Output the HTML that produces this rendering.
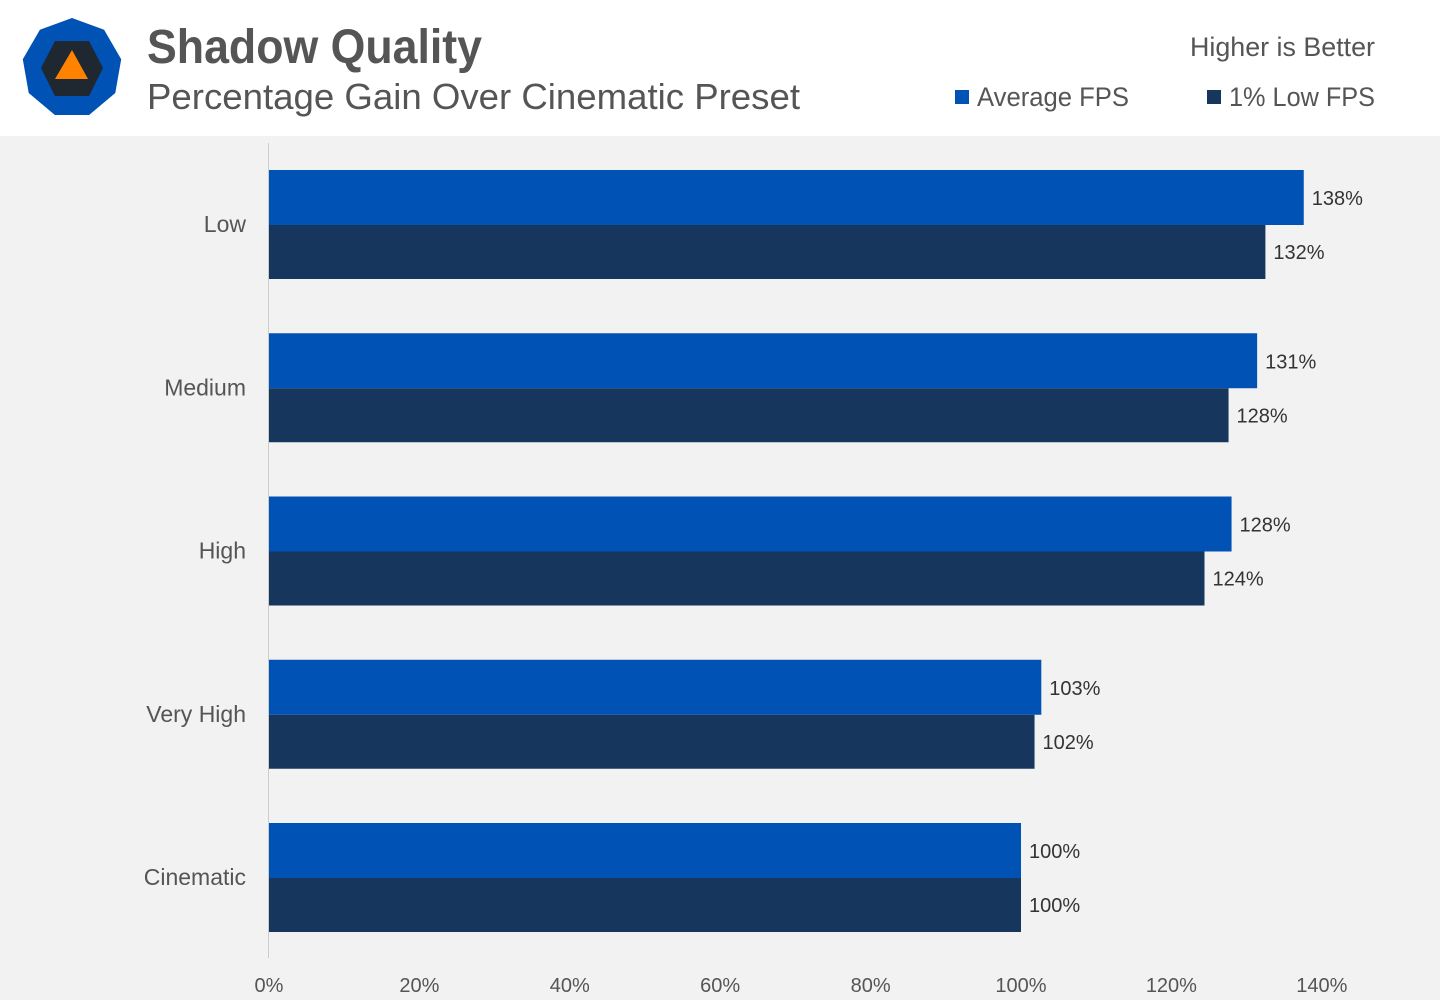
<!DOCTYPE html>
<html><head><meta charset="utf-8"><style>
body{margin:0;width:1440px;height:1000px;background:#f2f2f2;font-family:"Liberation Sans",sans-serif;overflow:hidden;position:relative}
#hdr{position:absolute;left:0;top:0;width:1440px;height:136px;background:#fff}
</style></head><body>
<div id="hdr"></div>
<svg style="position:absolute;left:0;top:0" width="1440" height="1000">
<g>
<polygon id="nona" fill="#0052b4"/>
<polygon points="55,41 89,41 103,68 89,96 55,96 41,68" fill="#1f2730"/>
<polygon points="72,50 55,79 88,79" fill="#ff8200"/>
</g>
<text x="147" y="63" font-size="48" font-weight="bold" fill="#555" textLength="335" lengthAdjust="spacingAndGlyphs">Shadow Quality</text>
<text x="147" y="109" font-size="36" fill="#555" textLength="653" lengthAdjust="spacingAndGlyphs">Percentage Gain Over Cinematic Preset</text>
<text x="1375" y="56" font-size="27" fill="#555" text-anchor="end" textLength="185" lengthAdjust="spacingAndGlyphs">Higher is Better</text>
<g><rect x="955" y="90" width="14" height="14" fill="#0052b4"/><text x="977" y="106" font-size="27" fill="#555" textLength="152" lengthAdjust="spacingAndGlyphs">Average FPS</text></g>
<g><rect x="1207" y="90" width="14" height="14" fill="#16365e"/><text x="1229" y="106" font-size="27" fill="#555" textLength="146" lengthAdjust="spacingAndGlyphs">1% Low FPS</text></g>
<line x1="268.5" y1="143" x2="268.5" y2="958" stroke="#ccc" stroke-width="1"/>
<g id="plot"></g>
</svg>
<script>
const categories=["Low","Medium","High","Very High","Cinematic"];
const avgValues=[137.6,131.4,128,102.7,100];
const lowValues=[132.5,127.6,124.4,101.8,100];
const avgLabels=["138%","131%","128%","103%","100%"];
const lowLabels=["132%","128%","124%","102%","100%"];
const ticks=[0,20,40,60,80,100,120,140];
const NS="http://www.w3.org/2000/svg";
const x=v=>269+v*7.52;
const y0=i=>170+i*163.25;
const g=document.getElementById('plot');
function el(t,a,txt){const e=document.createElementNS(NS,t);for(const k in a)e.setAttribute(k,a[k]);if(txt!=null)e.textContent=txt;g.appendChild(e);return e;}
let pts=[];for(let k=0;k<9;k++){const a=-Math.PI/2+k*2*Math.PI/9;pts.push((72+50*Math.cos(a)).toFixed(1)+","+(68+50*Math.sin(a)).toFixed(1));}
document.getElementById('nona').setAttribute('points',pts.join(' '));
categories.forEach((c,i)=>{
 const yy=y0(i);
 let t=el('text',{x:246,y:yy+62,'font-size':23,fill:'#555','text-anchor':'end'},c);
 
 
 let b=el('rect',{x:269,y:yy,width:x(avgValues[i])-269,height:55,fill:'#0052b4'});
 
 
 let b2=el('rect',{x:269,y:yy+55,width:x(lowValues[i])-269,height:54,fill:'#16365e'});
 
 
 let l1=el('text',{x:x(avgValues[i])+8,y:yy+35,'font-size':20,fill:'#333'},avgLabels[i]);
 
 
 let l2=el('text',{x:x(lowValues[i])+8,y:yy+89,'font-size':20,fill:'#333'},lowLabels[i]);
 
 
});
ticks.forEach(v=>{
 let t=el('text',{x:x(v),y:992,'font-size':20,fill:'#555','text-anchor':'middle'},v+'%');
 
 
});
</script>
</body></html>
